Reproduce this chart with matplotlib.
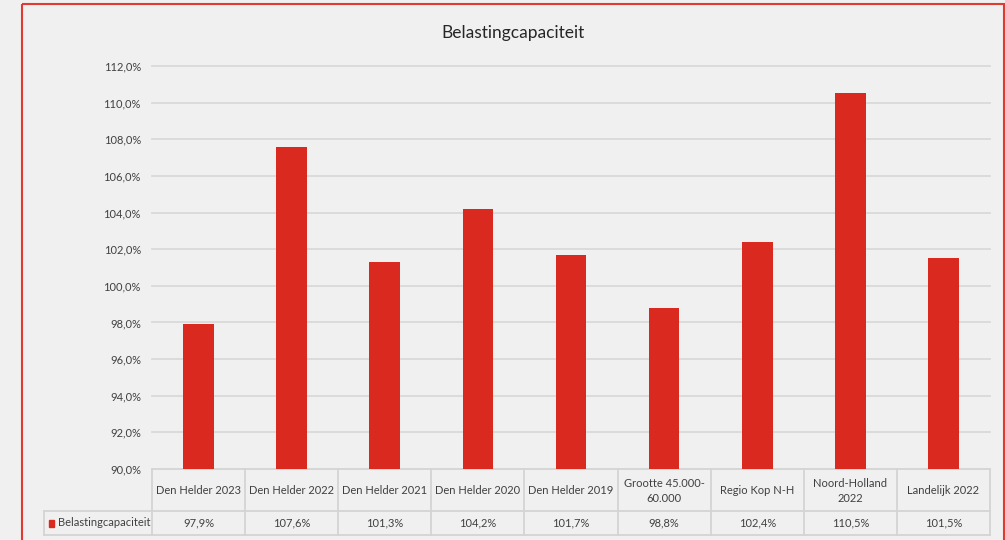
import matplotlib
matplotlib.use("Agg")
import matplotlib.pyplot as plt
from matplotlib.patches import Rectangle

plt.rcParams['font.family'] = ['Lato', 'DejaVu Sans']

title = "Belastingcapaciteit"
series_name = "Belastingcapaciteit"
categories = ["Den Helder 2023", "Den Helder 2022", "Den Helder 2021", "Den Helder 2020",
              "Den Helder 2019", "Grootte 45.000-\n60.000", "Regio Kop N-H",
              "Noord-Holland\n2022", "Landelijk 2022"]
values = [97.9, 107.6, 101.3, 104.2, 101.7, 98.8, 102.4, 110.5, 101.5]
y_ticks = [90, 92, 94, 96, 98, 100, 102, 104, 106, 108, 110, 112]

BG = "#f0f0f0"
RED = "#da2a1f"
GRID = "#d9d9d9"
TXT = "#404040"

W, H = 1005, 540
fig = plt.figure(figsize=(W / 100, H / 100), dpi=100, facecolor=BG)

# overlay axes in pixel coordinates
ov = fig.add_axes([0, 0, 1, 1])
ov.set_xlim(0, W)
ov.set_ylim(H, 0)
ov.axis("off")
ov.set_zorder(0)

# outer red frame
ov.add_patch(Rectangle((21.5, 3.5), 982, 560, fill=False, edgecolor="#e03a33", lw=1.5, clip_on=False))

# plot area
L, R, T, B = 152, 990, 66, 469
ax = fig.add_axes([L / W, 1 - B / H, (R - L) / W, (B - T) / H])
ax.set_facecolor("none")
x = list(range(len(categories)))
ax.bar(x, values, width=0.33, color=RED, zorder=3)
ax.set_xlim(-0.5, len(categories) - 0.5)
ax.set_ylim(y_ticks[0], y_ticks[-1])
ax.set_yticks(y_ticks)
ax.set_yticklabels([f"{v:.1f}%".replace(".", ",") for v in y_ticks], fontsize=8, color=TXT)
for v in y_ticks[1:]:
    ax.axhline(v, color=GRID, lw=1.3, zorder=0, clip_on=False)
ax.set_xticks([])
for s in ax.spines.values():
    s.set_visible(False)
ax.tick_params(axis="y", length=0, pad=8)

fig.text(513 / W, 1 - 33 / H, title, ha="center", va="center", fontsize=12.5, color="#262626")

# data table
row1_top, row1_bot, row2_bot = B, 511, 535
leg_left = 44
colw = (R - L) / len(categories)
lc = "#d4d4d4"
ov.plot([L, R], [row1_top, row1_top], color=lc, lw=1.3)
ov.plot([leg_left, R], [row1_bot, row1_bot], color=lc, lw=1.3)
ov.plot([leg_left, R], [row2_bot, row2_bot], color=lc, lw=1.3)
ov.plot([leg_left, leg_left], [row1_bot, row2_bot], color=lc, lw=1.3)
for i in range(len(categories) + 1):
    xb = L + i * colw
    ov.plot([xb, xb], [row1_top, row2_bot], color=lc, lw=1.3)
for i, (c, v) in enumerate(zip(categories, values)):
    xc = L + (i + 0.5) * colw
    ov.text(xc, (row1_top + row1_bot) / 2 + 1, c, ha="center", va="center", fontsize=8,
            color=TXT, linespacing=1.55)
    ov.text(xc, (row1_bot + row2_bot) / 2, f"{v:.1f}%".replace(".", ","), ha="center",
            va="center", fontsize=8, color=TXT)
ov.add_patch(Rectangle((48.5, 519.5), 5, 7, color=RED))
ov.text(58, (row1_bot + row2_bot) / 2, series_name, ha="left", va="center", fontsize=8, color=TXT)

fig.savefig("out.png", dpi=100, facecolor=BG)
